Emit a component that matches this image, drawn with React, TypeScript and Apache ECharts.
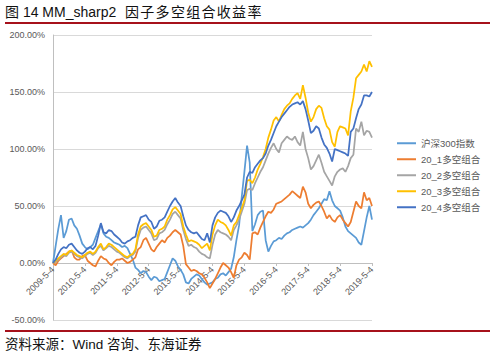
import { useEffect, useRef } from "react";
import * as echarts from "echarts";

// Monthly sample dates from 2009-5-4 to 2019-5-4
const categories: string[] = Array.from({ length: 121 }, (_, i) => {
  const y = 2009 + Math.floor((i + 4) / 12);
  const m = ((i + 4) % 12) + 1;
  return `${y}-${m}-4`;
});

const seriesNames = ["沪深300指数", "20_1多空组合", "20_2多空组合", "20_3多空组合", "20_4多空组合"];
const seriesColors = ["#5B9BD5", "#ED7D31", "#A5A5A5", "#FFC000", "#4472C4"];

const hs300 = [
  0, 15, 30, 42, 22, 28, 38, 39, 33, 30, 24, 17,
  14, 12, 14, 16, 22, 28, 34, 26, 23, 22, 20, 18,
  17, 16, 14, 15, 13, 8, 3, -4, -6, -9, -7, -8,
  -12, -15, -12, -13, -16, -15, -14, -8, -2, 4, 2, -3,
  -6, -10, -17, -18, -14, -12, -10, -11, -14, -17, -19, -18,
  -17, -14, -13, -10, -9, -11, -8, -5, 5, 20, 33, 58,
  80, 103, 88, 28, 34, 42, 45, 46, 20, 10, 15, 19,
  20, 22, 21, 24, 26, 27, 29, 30, 31, 32, 31, 33,
  35, 38, 42, 45, 48, 52, 56, 55, 63, 55, 50, 48,
  46, 40, 32, 28, 26, 24, 22, 18, 16, 28, 40, 50,
  38,
];

const g1 = [
  0, -2, 2, 4, 6, 8, 10, 11, 5, 3, 3, 6,
  7, 2, 0, -2, -3, 2, 6, 4, 3, 0, -2, 1,
  3, 3, 4, 2, 0, 1, 3, 5, 12, 14, 20, 22,
  17, 12, 10, 14, 17, 20, 18, 22, 24, 27, 29, 27,
  25, 15, -1, -4, -7, -6, -7, -9, -10, -13, -17, -22,
  -18, -14, -9, -4, 0, -2, -4, -8, -13, -2, 3, 5,
  9, 7, 3, 26, 27, 25, 31, 36, 41, 45, 44, 47,
  52, 53, 54, 56, 58, 60, 63, 61, 59, 57, 67, 62,
  52, 48, 51, 53, 54, 50, 45, 39, 42, 38, 36, 40,
  42, 38, 35, 32, 36, 45, 54, 50, 48, 62, 55, 57,
  50,
];

const g2 = [
  0, 1, 3, 5, 7, 6, 9, 10, 8, 6, 5, 4,
  6, 8, 9, 7, 9, 13, 15, 11, 13, 15, 14, 12,
  10, 9, 7, 5, 4, 6, 7, 10, 22, 29, 31, 32,
  29, 26, 20, 21, 26, 27, 29, 34, 38, 43, 45, 42,
  39, 29, 21, 15, 16, 14, 13, 10, 8, 7, 5, 4,
  16, 25, 29, 27, 26, 25, 23, 20, 29, 33, 38, 45,
  52, 64, 65, 64, 70, 75, 80, 84, 90, 96, 101, 105,
  100, 97, 105, 108, 111, 109, 108, 111, 106, 103, 115, 100,
  92, 82, 85, 90, 95, 88, 80, 76, 72, 68, 76, 80,
  82, 83, 80, 85, 92, 95, 118, 115, 124, 112, 116, 115,
  110,
];

const g3 = [
  0, 2, 4, 6, 8, 7, 10, 11, 9, 7, 6, 5,
  7, 9, 10, 8, 10, 14, 17, 12, 14, 17, 16, 14,
  12, 10, 8, 6, 5, 7, 8, 12, 25, 32, 34, 35,
  32, 29, 23, 24, 29, 30, 32, 38, 42, 47, 49, 46,
  43, 32, 25, 19, 20, 19, 18, 16, 13, 15, 17, 11,
  25, 33, 38, 36, 35, 33, 29, 24, 33, 36, 42, 48,
  55, 72, 73, 70, 75, 82, 87, 93, 100, 110, 117, 125,
  128, 124, 130, 135, 138, 140, 144, 147, 149, 144, 156, 145,
  132, 124, 128, 135, 138, 136, 127, 120, 117, 106, 102, 115,
  120, 119, 118, 112, 133, 145, 162, 165, 168, 174, 168, 177,
  172,
];

const g4 = [
  0, 3, 8, 12, 14, 13, 16, 17, 14, 11, 9, 8,
  10, 13, 14, 12, 15, 24, 35, 27, 26, 29, 28, 25,
  23, 21, 18, 17, 19, 20, 22, 23, 33, 40, 41, 42,
  38, 36, 30, 32, 37, 38, 40, 45, 50, 54, 57, 53,
  50, 41, 33, 29, 27, 26, 27, 24, 21, 20, 26, 18,
  33, 40, 44, 46, 45, 44, 41, 36, 40, 46, 50, 55,
  60, 75, 80, 79, 84, 87, 90, 92, 96, 103, 108, 114,
  120, 124, 128, 131, 134, 137, 139, 140, 141, 139, 142, 135,
  125, 114, 116, 120, 118, 110, 104, 101, 96, 89, 100, 99,
  98, 97, 96, 94, 115, 118, 127, 135, 139, 147, 147, 146,
  150,
];

const allSeries = [hs300, g1, g2, g3, g4];

const titleHead = "图 14 MM_sharp2";
const titleTail = "因子多空组合收益率";
const sourceText = "资料来源：Wind 咨询、东海证券";

export default function App() {
  const ref = useRef<HTMLDivElement>(null);
  useEffect(() => {
    if (!ref.current) return;
    const chart = echarts.init(ref.current, null, { renderer: "svg" });
    const font = "'Liberation Sans', 'Noto Sans CJK SC', sans-serif";
    const tailChars = Array.from(titleTail).map((ch, k) => ({
      type: "text",
      left: 125 + k * 15.3,
      top: 5,
      style: { text: ch, fontSize: 14, fill: "#111", fontFamily: font },
    }));
    chart.setOption({
      animation: false,
      backgroundColor: "#fff",
      textStyle: { fontFamily: font },
      grid: { left: 53, right: 122, top: 35, bottom: 42, containLabel: false },
      xAxis: {
        type: "category",
        data: categories,
        boundaryGap: false,
        offset: -57,
        axisLine: { onZero: false, lineStyle: { color: "#BFBFBF", width: 1 } },
        axisTick: { show: true, interval: 11, length: 3, lineStyle: { color: "#BFBFBF" } },
        axisLabel: { interval: 11, rotate: 45, fontSize: 9, color: "#595959", margin: 5 },
        splitLine: { show: false },
      },
      yAxis: {
        type: "value",
        min: -50,
        max: 200,
        interval: 50,
        axisLine: { show: true, lineStyle: { color: "#BFBFBF" } },
        axisTick: { show: false },
        axisLabel: {
          formatter: (v: number) => v.toFixed(2) + "%",
          fontSize: 9,
          color: "#595959",
          margin: 8,
        },
        splitLine: { lineStyle: { color: "#D9D9D9", width: 1 } },
      },
      legend: {
        orient: "vertical",
        left: 392,
        top: 133,
        icon: "rect",
        itemWidth: 19,
        itemHeight: 2,
        itemGap: 5.5,
        textStyle: { fontSize: 9.5, color: "#595959", fontFamily: font, lineHeight: 10.5 },
        data: seriesNames,
      },
      series: allSeries.map((d, i) => ({
        name: seriesNames[i],
        type: "line",
        data: d,
        symbol: "none",
        color: seriesColors[i],
        lineStyle: { width: 1.75, color: seriesColors[i] },
      })),
      graphic: [
        {
          type: "text",
          left: 5,
          top: 5,
          style: { text: titleHead, fontSize: 14, fill: "#111", fontFamily: font },
        },
        ...tailChars,
        {
          type: "line",
          shape: { x1: 5, y1: 23, x2: 490, y2: 23 },
          style: { stroke: "#A6111B", lineWidth: 2 },
        },
        {
          type: "line",
          shape: { x1: 5, y1: 331, x2: 490, y2: 331 },
          style: { stroke: "#A6111B", lineWidth: 2 },
        },
        {
          type: "text",
          left: 5,
          top: 338,
          style: { text: sourceText, fontSize: 13.5, fill: "#111", fontFamily: font },
        },
      ],
    });
    return () => chart.dispose();
  }, []);
  return (
    <div
      ref={ref}
      style={{ position: "fixed", left: 0, top: 0, width: 494, height: 362, background: "#fff" }}
    />
  );
}
